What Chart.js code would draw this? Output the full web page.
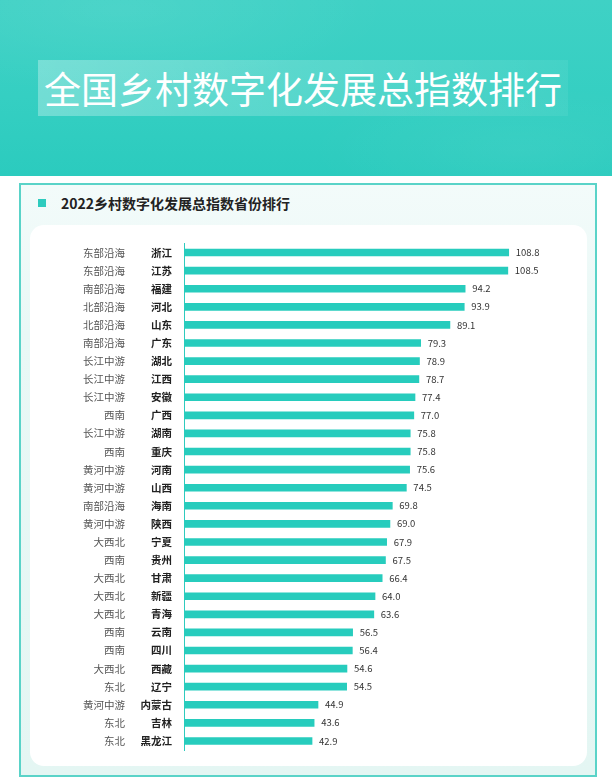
<!DOCTYPE html>
<html>
<head>
<meta charset="utf-8">
<script src="https://cdn.jsdelivr.net/npm/chart.js@4/dist/chart.umd.min.js"></script>
<style>
  html, body { margin: 0; padding: 0; }
  body { width: 612px; height: 779px; overflow: hidden; background: #ffffff; position: relative; font-family: "Noto Sans CJK SC", "Noto Sans", sans-serif; }
  #header { position: absolute; left: 0; top: 0; width: 612px; height: 176px;
    background:
      radial-gradient(ellipse 380px 120px at 120px 10px, rgba(255,255,255,0.07), rgba(255,255,255,0) 70%),
      radial-gradient(ellipse 300px 90px at 520px 150px, rgba(255,255,255,0.05), rgba(255,255,255,0) 70%),
      linear-gradient(180deg, #3fd1c5 0%, #35cfc2 55%, #2bcbbe 100%); }
  #titlebox { position: absolute; left: 38px; top: 60px; width: 530px; height: 56px;
    background: linear-gradient(90deg, rgba(255,255,255,0.30) 0%, rgba(255,255,255,0.14) 60%, rgba(255,255,255,0.06) 100%); }
  #title { position: absolute; left: 44px; top: 60px; height: 56px; line-height: 56px; font-size: 37px; color: #ffffff; font-weight: 400; white-space: nowrap; }
  #card { position: absolute; left: 19px; top: 183px; width: 574px; height: 590px; border: 2px solid #5ad3c8;
    background: linear-gradient(180deg, #f3fbfa 0%, #e9f8f6 25%, #e4f6f3 100%); }
  #panel { position: absolute; left: 30px; top: 225px; width: 557px; height: 541px; border-radius: 14px; background: #ffffff; }
  #sq { position: absolute; left: 38px; top: 199px; width: 8px; height: 8px; background: #2ecbbe; }
  #sub { position: absolute; left: 61px; top: 193px; height: 20px; line-height: 20px; font-size: 14px; font-weight: 700; color: #222222; white-space: nowrap; }
  #c { position: absolute; left: 0; top: 0; }
</style>
</head>
<body>
<div id="header"></div>
<div id="titlebox"></div>
<div id="title">全国乡村数字化发展总指数排行</div>
<div id="card"></div>
<div id="panel"></div>
<div id="sq"></div>
<div id="sub">2022乡村数字化发展总指数省份排行</div>
<canvas id="c" width="612" height="779"></canvas>
<script>
const provinces = ["浙江","江苏","福建","河北","山东","广东","湖北","江西","安徽","广西","湖南","重庆","河南","山西","海南","陕西","宁夏","贵州","甘肃","新疆","青海","云南","四川","西藏","辽宁","内蒙古","吉林","黑龙江"];
const regions = ["东部沿海","东部沿海","南部沿海","北部沿海","北部沿海","南部沿海","长江中游","长江中游","长江中游","西南","长江中游","西南","黄河中游","黄河中游","南部沿海","黄河中游","大西北","西南","大西北","大西北","大西北","西南","西南","大西北","东北","黄河中游","东北","东北"];
const values = [108.8,108.5,94.2,93.9,89.1,79.3,78.9,78.7,77.4,77.0,75.8,75.8,75.6,74.5,69.8,69.0,67.9,67.5,66.4,64.0,63.6,56.5,56.4,54.6,54.5,44.9,43.6,42.9];

const cjk = '"Noto Sans CJK SC", "Noto Sans", sans-serif';

const valueLabels = {
  id: 'valueLabels',
  afterDatasetsDraw(chart) {
    const ctx = chart.ctx;
    const meta = chart.getDatasetMeta(0);
    ctx.save();
    ctx.font = '9.5px ' + cjk;
    ctx.fillStyle = '#333333';
    ctx.textAlign = 'left';
    ctx.textBaseline = 'middle';
    meta.data.forEach((bar, i) => {
      ctx.fillText(values[i].toFixed(1), bar.x + 7, bar.y);
    });
    ctx.restore();
  }
};

new Chart(document.getElementById('c'), {
  type: 'bar',
  data: {
    labels: provinces,
    datasets: [{
      data: values,
      backgroundColor: '#27ccbd',
      borderWidth: 0,
      barThickness: 7,
      yAxisID: 'y'
    }]
  },
  plugins: [valueLabels],
  options: {
    indexAxis: 'y',
    responsive: false,
    animation: false,
    devicePixelRatio: 1,
    layout: { padding: { left: 30, right: 40, top: 243.5, bottom: 29 } },
    plugins: { legend: { display: false }, tooltip: { enabled: false } },
    scales: {
      x: { display: false, min: 0, max: 130 },
      y: {
        type: 'category',
        position: 'left',
        weight: 0,
        offset: true,
        grid: { display: false, drawTicks: false },
        border: { display: true, color: '#2ecbbe', width: 1 },
        ticks: { autoSkip: false, padding: 12, color: '#222222', font: { family: cjk, size: 10.5, weight: 'bold' } },
        afterFit(scale) { scale.width = 50; }
      },
      yr: {
        type: 'category',
        position: 'left',
        weight: 1,
        offset: true,
        labels: regions,
        grid: { display: false, drawTicks: false },
        border: { display: false },
        ticks: { autoSkip: false, padding: 9, color: '#555555', font: { family: cjk, size: 10.5 } },
        afterFit(scale) { scale.width = 104; }
      }
    }
  }
});
</script>
</body>
</html>
